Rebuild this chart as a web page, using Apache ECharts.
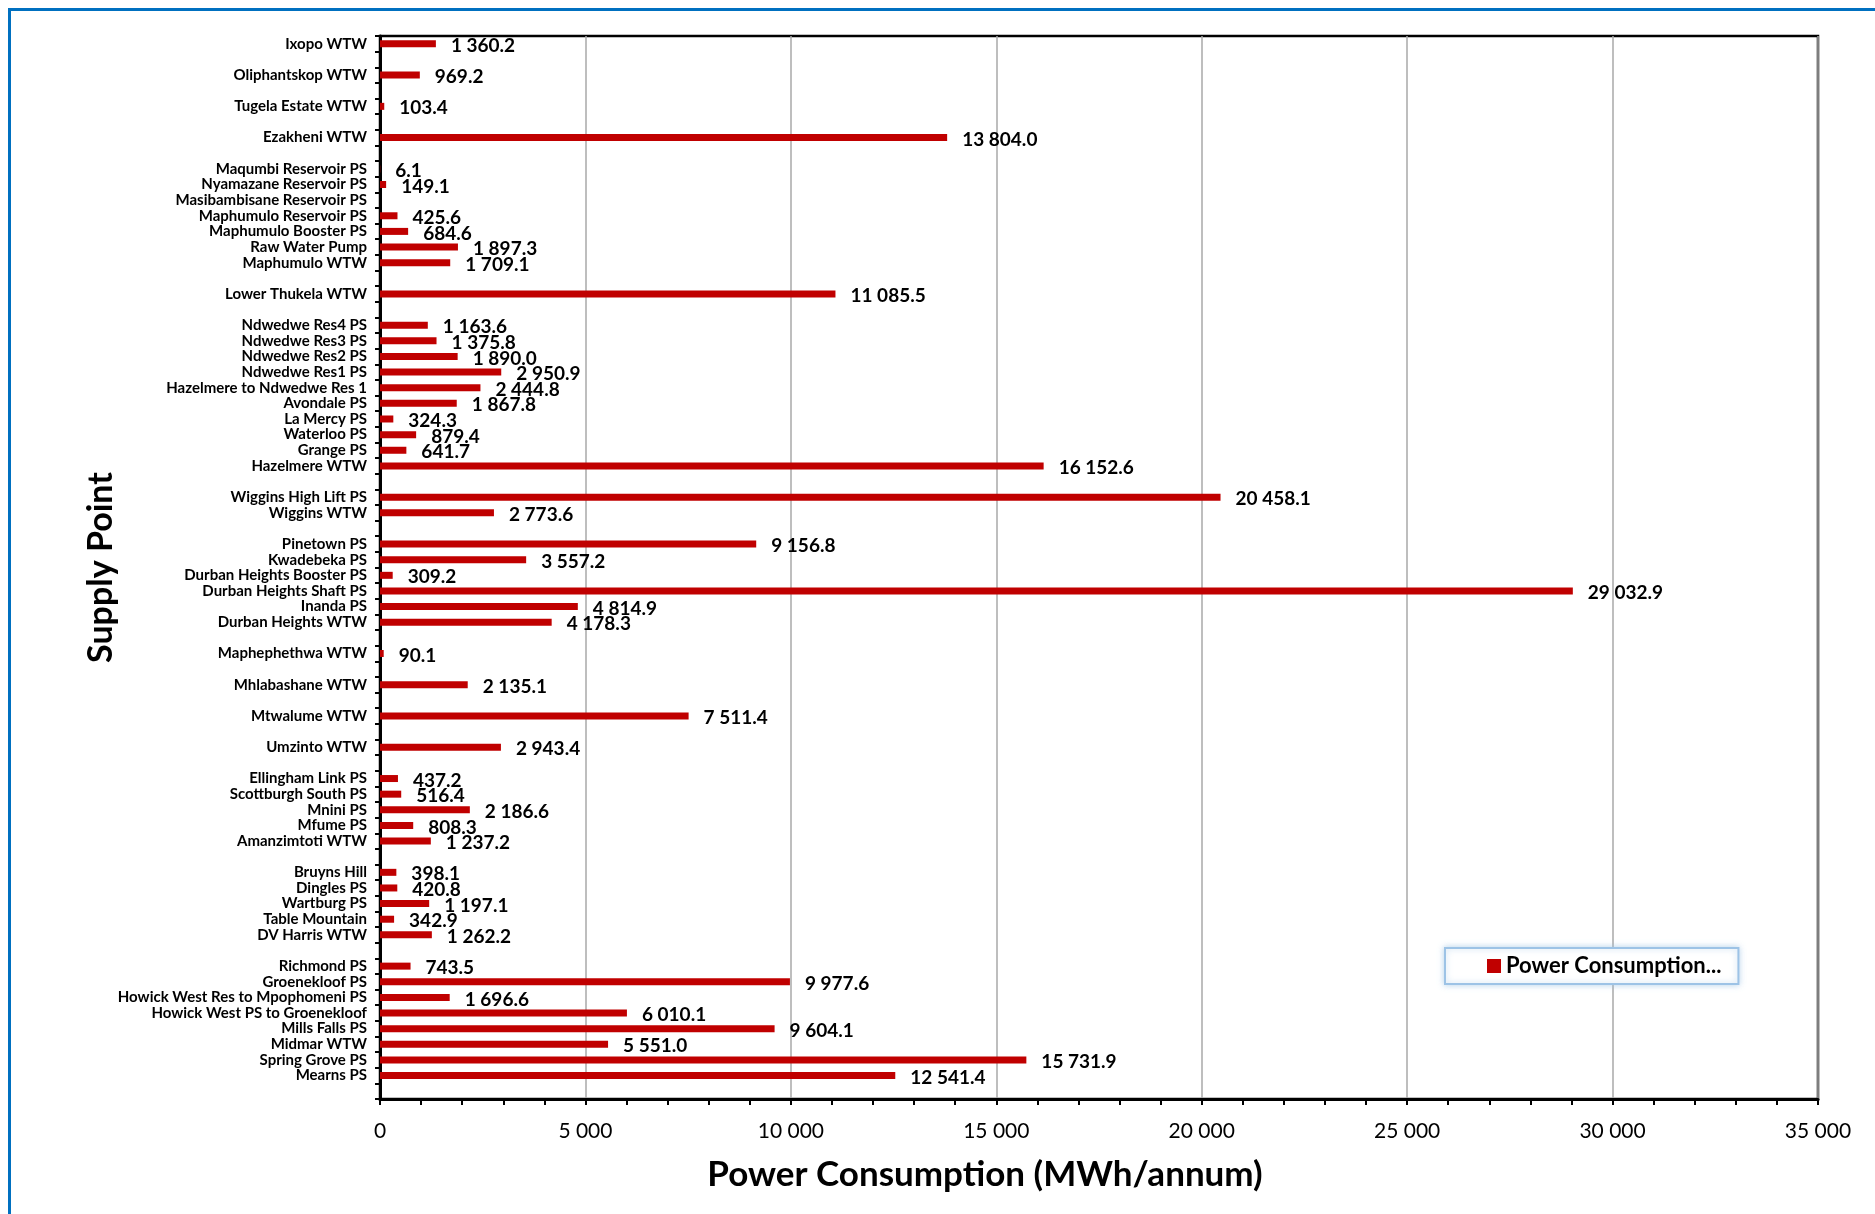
<!DOCTYPE html>
<html>
<head>
<meta charset="utf-8">
<script src="https://cdn.jsdelivr.net/npm/echarts@6/dist/echarts.min.js"></script>
<style>
html,body{margin:0;padding:0;background:#fff;}
#chart{width:1875px;height:1214px;}
</style>
</head>
<body>
<div id="chart"></div>
<script>
// Categories top to bottom ('' = empty spacer row)
const categories = [
  'Ixopo WTW', '', 'Oliphantskop WTW', '', 'Tugela Estate WTW', '', 'Ezakheni WTW', '',
  'Maqumbi Reservoir PS', 'Nyamazane Reservoir PS', 'Masibambisane Reservoir PS', 'Maphumulo Reservoir PS',
  'Maphumulo Booster PS', 'Raw Water Pump', 'Maphumulo WTW', '', 'Lower Thukela WTW', '',
  'Ndwedwe Res4 PS', 'Ndwedwe Res3 PS', 'Ndwedwe Res2 PS', 'Ndwedwe Res1 PS', 'Hazelmere to Ndwedwe Res 1',
  'Avondale PS', 'La Mercy PS', 'Waterloo PS', 'Grange PS', 'Hazelmere WTW', '',
  'Wiggins High Lift PS', 'Wiggins WTW', '',
  'Pinetown PS', 'Kwadebeka PS', 'Durban Heights Booster PS', 'Durban Heights Shaft PS', 'Inanda PS', 'Durban Heights WTW', '',
  'Maphephethwa WTW', '', 'Mhlabashane WTW', '', 'Mtwalume WTW', '', 'Umzinto WTW', '',
  'Ellingham Link PS', 'Scottburgh South PS', 'Mnini PS', 'Mfume PS', 'Amanzimtoti WTW', '',
  'Bruyns Hill', 'Dingles PS', 'Wartburg PS', 'Table Mountain', 'DV Harris WTW', '',
  'Richmond PS', 'Groenekloof PS', 'Howick West Res to Mpophomeni PS', 'Howick West PS to Groenekloof',
  'Mills Falls PS', 'Midmar WTW', 'Spring Grove PS', 'Mearns PS', ''
];
// Power consumption (MWh/annum), aligned with categories
const powerConsumption = [
  1360.2, null, 969.2, null, 103.4, null, 13804.0, null,
  6.1, 149.1, null, 425.6,
  684.6, 1897.3, 1709.1, null, 11085.5, null,
  1163.6, 1375.8, 1890.0, 2950.9, 2444.8,
  1867.8, 324.3, 879.4, 641.7, 16152.6, null,
  20458.1, 2773.6, null,
  9156.8, 3557.2, 309.2, 29032.9, 4814.9, 4178.3, null,
  90.1, null, 2135.1, null, 7511.4, null, 2943.4, null,
  437.2, 516.4, 2186.6, 808.3, 1237.2, null,
  398.1, 420.8, 1197.1, 342.9, 1262.2, null,
  743.5, 9977.6, 1696.6, 6010.1,
  9604.1, 5551.0, 15731.9, 12541.4, null
];
const xTicks = { min: 0, max: 35000, interval: 5000 };
const seriesName = 'Power Consumption...';

function group(s){ return s.replace(/\B(?=(\d{3})+(?!\d))/g, ' '); }
function fmt1(v){ const p = v.toFixed(1).split('.'); return group(p[0]) + '.' + p[1]; }

const FONT = 'Lato';
const chart = echarts.init(document.getElementById('chart'), null, {renderer:'canvas'});
chart.setOption({
  animation: false,
  backgroundColor: '#fff',
  textStyle: { fontFamily: FONT },
  graphic: [{
    type: 'rect', silent: true, z: 100,
    shape: { x: 9.5, y: 9.5, width: 4000, height: 4000 },
    style: { fill: 'none', stroke: '#0070C0', lineWidth: 3 }
  }],
  grid: { left: 380, right: 57, top: 36, bottom: 115, show: true, borderColor: '#000', borderWidth: 2.5, containLabel: false },
  legend: {
    show: true, left: 1445, top: 948, orient: 'horizontal',
    icon: 'rect', itemWidth: 14, itemHeight: 14, itemGap: 5,
    padding: [7, 17, 7, 42],
    backgroundColor: '#fff', borderColor: '#9DC3E6', borderWidth: 2,
    shadowColor: 'rgba(157,195,230,0.7)', shadowBlur: 6,
    textStyle: { fontFamily: FONT, fontWeight: 'bold', fontSize: 22, color: '#000', padding: [0,0,0,0] },
    data: [seriesName]
  },
  xAxis: {
    type: 'value', min: xTicks.min, max: xTicks.max, interval: xTicks.interval,
    name: 'Power Consumption (MWh/annum)', nameLocation: 'middle', nameGap: 58, nameMoveOverlap: false,
    nameTextStyle: { fontFamily: FONT, fontWeight: 'bold', fontSize: 35, color: '#000', padding: [0, 228, 0, 0] },
    axisLine: { show: true, lineStyle: { color: '#000', width: 3 } },
    axisTick: { show: true, length: 6, lineStyle: { color: '#000', width: 2 } },
    minorTick: { show: true, splitNumber: 5, length: 6, lineStyle: { color: '#000', width: 2 } },
    splitLine: { show: true, lineStyle: { color: '#A8A8A8', width: 1.5 } },
    axisLabel: { fontFamily: FONT, fontSize: 21, color: '#000', margin: 22,
      formatter: v => group(String(v)) }
  },
  yAxis: {
    type: 'category', inverse: true, data: categories,
    name: 'Supply Point', nameLocation: 'middle', nameGap: 262, nameRotate: 90, nameMoveOverlap: false,
    nameTextStyle: { fontFamily: FONT, fontWeight: 'bold', fontSize: 34, color: '#000' },
    axisLine: { show: true, lineStyle: { color: '#000', width: 3 } },
    axisTick: { show: true, length: 5, lineStyle: { color: '#000', width: 2 } },
    splitLine: { show: false },
    axisLabel: { fontFamily: FONT, fontWeight: 'bold', fontSize: 15, color: '#000', margin: 13, interval: 0 }
  },
  series: [{
    name: seriesName, type: 'bar', data: powerConsumption, barWidth: 7,
    itemStyle: { color: '#C00000' },
    label: {
      show: true, position: 'right', distance: 15, offset: [0, 2],
      fontFamily: FONT, fontWeight: 'bold', fontSize: 19, color: '#000',
      formatter: p => (p.value == null ? '' : fmt1(p.value))
    }
  }]
});
</script>
</body>
</html>
